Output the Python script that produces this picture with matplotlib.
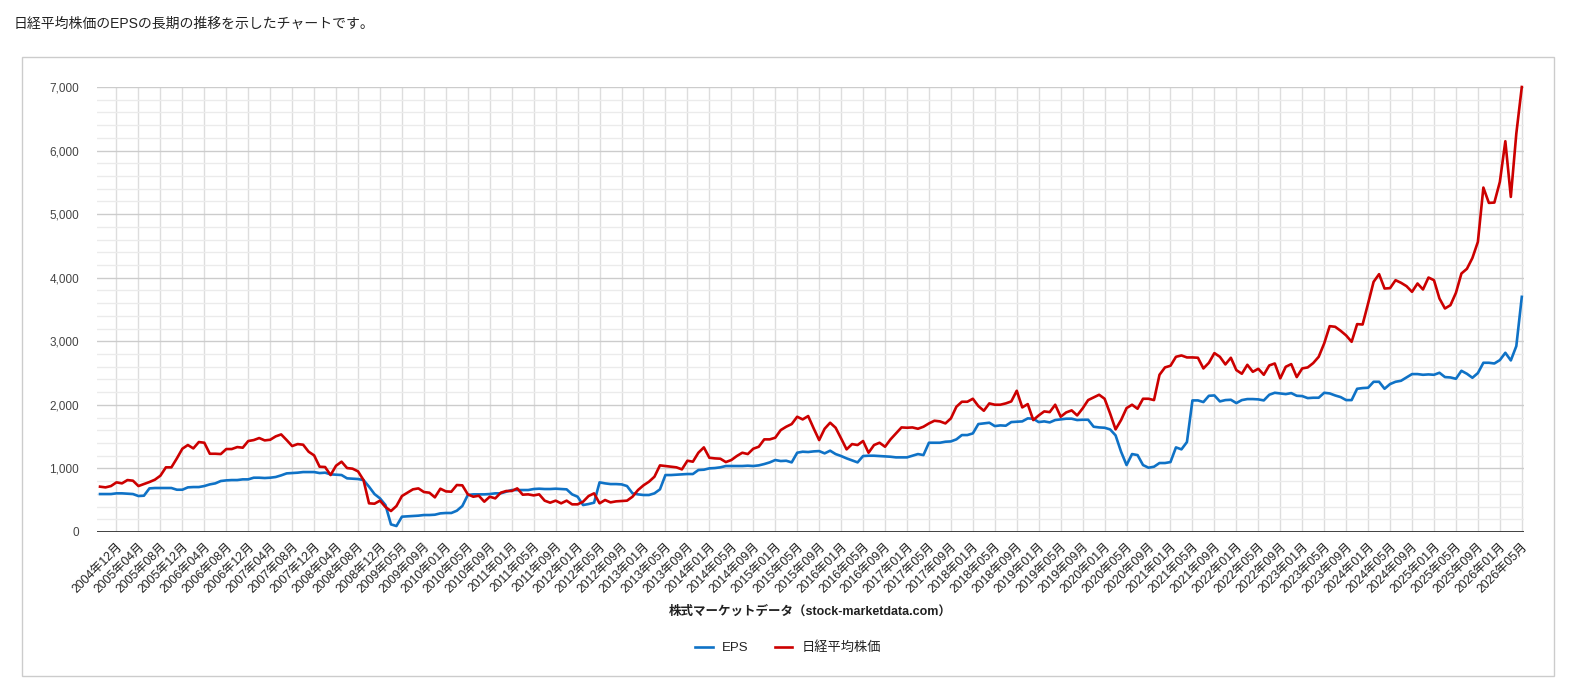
import matplotlib.pyplot as plt
from matplotlib.patches import Rectangle
from matplotlib.ticker import MultipleLocator, FuncFormatter

# 日本語フォントを後ろに置いて、英数字はLiberation Sansで描く
plt.rcParams['font.family'] = ['Liberation Sans', 'Noto Sans CJK JP', 'DejaVu Sans']

# データ（2004年09月〜2026年05月、月次。グラフから読み取った値）
nikkei = [
    713, 702, 723, 781, 765, 817, 807, 723, 754, 786,
    823, 886, 1017, 1017, 1158, 1310, 1368, 1315, 1415, 1404,
    1231, 1231, 1226, 1305, 1305, 1336, 1326, 1431, 1446, 1478,
    1441, 1451, 1504, 1535, 1446, 1352, 1383, 1373, 1263, 1205,
    1027, 1022, 896, 1043, 1106, 1006, 996, 954, 817, 451,
    445, 493, 393, 330, 409, 566, 618, 671, 686, 629,
    618, 545, 681, 639, 634, 739, 734, 592, 555, 571,
    477, 555, 529, 618, 645, 645, 686, 587, 592, 576,
    592, 493, 461, 493, 451, 493, 435, 435, 477, 566,
    608, 451, 503, 466, 482, 487, 493, 555, 660, 734,
    791, 870, 1048, 1038, 1027, 1017, 985, 1121, 1106, 1247,
    1331, 1168, 1158, 1153, 1100, 1132, 1195, 1247, 1226, 1310,
    1341, 1457, 1457, 1483, 1603, 1656, 1698, 1813, 1771, 1824,
    1630, 1446, 1624, 1719, 1640, 1472, 1300, 1383, 1368, 1431,
    1247, 1368, 1404, 1341, 1457, 1551, 1645, 1640, 1645, 1624,
    1656, 1708, 1750, 1740, 1708, 1787, 1970, 2049, 2049, 2096,
    1981, 1907, 2023, 2002, 2002, 2023, 2054, 2222, 1960, 2012,
    1761, 1834, 1897, 1886, 2002, 1813, 1881, 1913, 1834, 1944,
    2075, 2117, 2159, 2096, 1865, 1614, 1761, 1949, 2002, 1939,
    2096, 2096, 2075, 2473, 2589, 2615, 2756, 2777, 2746, 2746,
    2741, 2573, 2662, 2814, 2756, 2636, 2741, 2547, 2489, 2630,
    2520, 2568, 2473, 2620, 2651, 2416, 2599, 2641, 2437, 2573,
    2589, 2657, 2756, 2966, 3238, 3228, 3165, 3092, 2992, 3270,
    3264, 3595, 3935, 4056, 3830, 3836, 3961, 3920, 3867, 3778,
    3909, 3815, 4003, 3961, 3673, 3516, 3568, 3762, 4066, 4140,
    4310, 4564, 5418, 5177, 5182, 5507, 6147, 5271, 6267, 7000,
]

eps = [
    597, 597, 597, 608, 608, 603, 597, 566, 571, 686,
    692, 692, 692, 692, 665, 665, 702, 707, 707, 723,
    749, 765, 802, 812, 817, 817, 828, 828, 854, 854,
    849, 854, 865, 891, 922, 927, 933, 943, 943, 943,
    927, 933, 907, 901, 896, 844, 838, 833, 817, 713,
    597, 529, 424, 120, 94, 241, 246, 252, 257, 267,
    267, 272, 293, 299, 299, 335, 409, 582, 592, 592,
    592, 597, 608, 608, 634, 660, 660, 660, 660, 676,
    681, 676, 676, 681, 676, 671, 592, 555, 424, 440,
    461, 781, 765, 754, 754, 749, 723, 608, 592, 582,
    582, 608, 671, 896, 896, 901, 907, 912, 912, 975,
    980, 1001, 1006, 1017, 1038, 1038, 1038, 1038, 1043, 1038,
    1048, 1069, 1095, 1132, 1116, 1121, 1095, 1247, 1263, 1258,
    1268, 1273, 1237, 1279, 1226, 1195, 1158, 1127, 1095, 1195,
    1200, 1200, 1195, 1189, 1184, 1174, 1174, 1174, 1200, 1226,
    1210, 1404, 1404, 1404, 1420, 1425, 1457, 1525, 1525, 1551,
    1698, 1708, 1719, 1666, 1677, 1672, 1729, 1735, 1740, 1787,
    1782, 1729, 1740, 1724, 1761, 1771, 1782, 1782, 1761, 1766,
    1766, 1656, 1645, 1640, 1614, 1520, 1263, 1053, 1226, 1210,
    1053, 1011, 1027, 1085, 1085, 1100, 1331, 1300, 1415, 2070,
    2070, 2044, 2143, 2148, 2054, 2075, 2080, 2028, 2075, 2091,
    2091, 2086, 2070, 2159, 2190, 2180, 2169, 2185, 2143, 2138,
    2106, 2112, 2112, 2190, 2180, 2148, 2122, 2075, 2075, 2253,
    2264, 2269, 2363, 2363, 2253, 2327, 2363, 2379, 2431, 2484,
    2484, 2473, 2479, 2473, 2505, 2437, 2431, 2410, 2536, 2489,
    2426, 2500, 2662, 2662, 2651, 2704, 2819, 2699, 2924, 3699,
]

# x軸ラベル（4か月ごと、2004年12月から）
tick_labels = [
    "2004年12月", "2005年04月", "2005年08月", "2005年12月", "2006年04月",
    "2006年08月", "2006年12月", "2007年04月", "2007年08月", "2007年12月",
    "2008年04月", "2008年08月", "2008年12月", "2009年05月", "2009年09月",
    "2010年01月", "2010年05月", "2010年09月", "2011年01月", "2011年05月",
    "2011年09月", "2012年01月", "2012年05月", "2012年09月", "2013年01月",
    "2013年05月", "2013年09月", "2014年01月", "2014年05月", "2014年09月",
    "2015年01月", "2015年05月", "2015年09月", "2016年01月", "2016年05月",
    "2016年09月", "2017年01月", "2017年05月", "2017年09月", "2018年01月",
    "2018年05月", "2018年09月", "2019年01月", "2019年05月", "2019年09月",
    "2020年01月", "2020年05月", "2020年09月", "2021年01月", "2021年05月",
    "2021年09月", "2022年01月", "2022年05月", "2022年09月", "2023年01月",
    "2023年05月", "2023年09月", "2024年01月", "2024年05月", "2024年09月",
    "2025年01月", "2025年05月", "2025年09月", "2026年01月", "2026年05月",
]

x = list(range(len(eps)))
tick_pos = [3 + 4 * k for k in range(len(tick_labels))]

fig = plt.figure(figsize=(15.7, 6.92), dpi=100)

# 上の説明文と外枠
fig.text(14 / 1570, 1 - 24 / 692, "日経平均株価のEPSの長期の推移を示したチャートです。",
         fontsize=10, color="#222222", va="center", ha="left")
fig.add_artist(Rectangle((22 / 1570, 1 - 676 / 692), (1554 - 22) / 1570, (676 - 57) / 692,
                         transform=fig.transFigure, fill=False, edgecolor="#cccccc", lw=1))

ax = fig.add_axes([97 / 1570, 1 - 532 / 692, (1524 - 97) / 1570, (532 - 87) / 692])

ax.plot(x, eps, color="#0f72c6", lw=1.9, label="EPS", zorder=4)
ax.plot(x, nikkei, color="#cc0000", lw=1.9, label="日経平均株価", zorder=5, clip_on=False)

ax.set_xlim(-0.55, 259.4)
ax.set_ylim(0, 7000)
ax.set_yticks(range(0, 7001, 1000))
ax.yaxis.set_major_formatter(FuncFormatter(lambda v, p: f"{int(v):,}"))
ax.yaxis.set_minor_locator(MultipleLocator(200))

ax.set_xticks(tick_pos)
ax.set_xticklabels(tick_labels, rotation=45, ha="right", rotation_mode="anchor")

# グリッド
ax.grid(which="major", axis="y", color="#cccccc", lw=1)
ax.grid(which="minor", axis="y", color="#ebebeb", lw=1)
ax.grid(which="major", axis="x", color="#dddddd", lw=1)
ax.set_axisbelow(True)
for s in ax.spines.values():
    s.set_visible(False)
ax.axhline(0, color="#333333", lw=1.3, zorder=3)

ax.tick_params(axis="both", which="both", length=0)
ax.tick_params(axis="y", pad=13, labelsize=8.5, labelcolor="#444444")
ax.tick_params(axis="x", pad=6, labelsize=8.8, labelcolor="#222222")

ax.set_xlabel("株式マーケットデータ（stock-marketdata.com）", fontsize=9, fontweight="bold", color="#222222")
ax.xaxis.label.set_va("center")
ax.xaxis.set_label_coords(0.5, (532 - 612) / 445)

# 凡例
fig.legend(loc="center", bbox_to_anchor=(788 / 1570, 1 - 648 / 692), ncol=2, frameon=False,
           fontsize=9.5, handlelength=1.3, handletextpad=0.7, columnspacing=2.0,
           labelcolor="#222222")

fig.savefig("out.png", dpi=100)
